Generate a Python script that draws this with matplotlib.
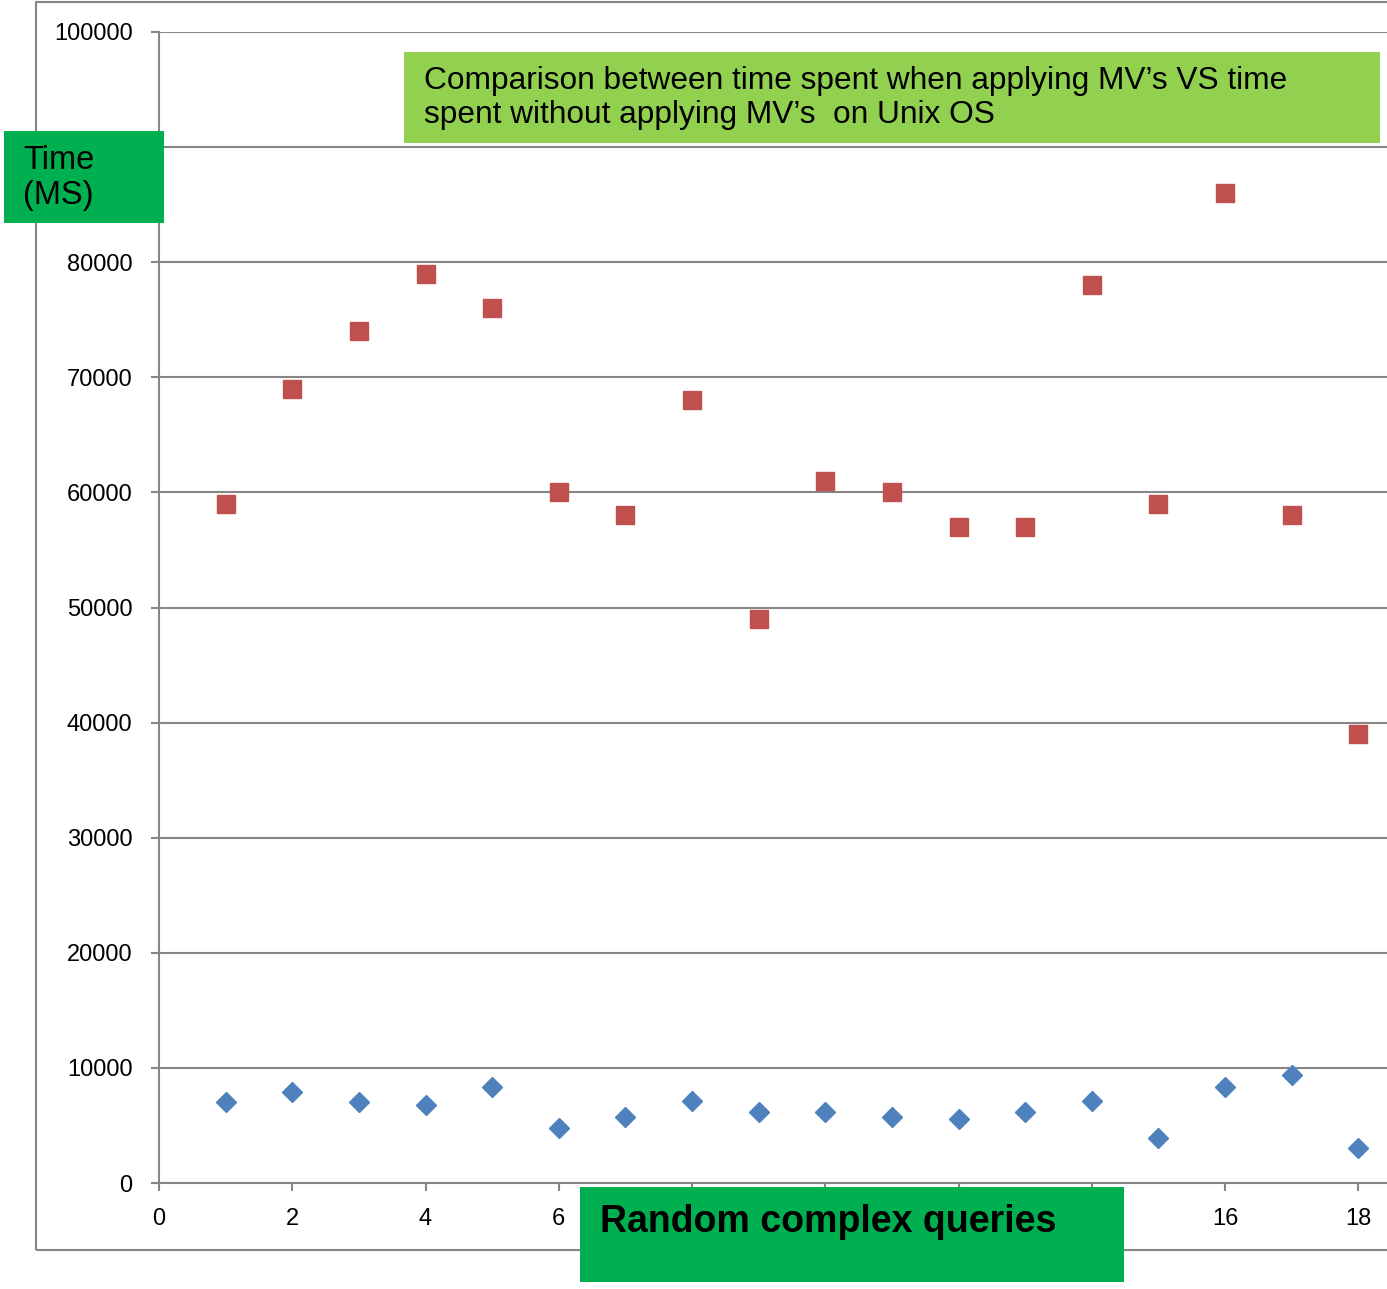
import matplotlib
matplotlib.use("Agg")
import matplotlib.pyplot as plt
from matplotlib.patches import Rectangle

queries = list(range(1, 19))
without_mv = [59000, 69000, 74000, 79000, 76000, 60000, 58000, 68000, 49000,
              61000, 60000, 57000, 57000, 78000, 59000, 86000, 58000, 39000]
with_mv = [7000, 7900, 7000, 6800, 8300, 4800, 5700, 7100, 6200,
           6200, 5700, 5600, 6200, 7100, 3900, 8300, 9400, 3000]
xticks = [0, 2, 4, 6, 8, 10, 12, 14, 16, 18]
yticks = [0, 10000, 20000, 30000, 40000, 50000, 60000, 70000, 80000, 90000, 100000]

title_text = "Comparison between time spent when applying MV\u2019s VS time\nspent without applying MV\u2019s  on Unix OS"
ylabel_text = "Time\n(MS)"
xlabel_text = "Random complex queries"

plt.rcParams['font.family'] = ['Liberation Sans', 'DejaVu Sans']

W, H = 1387, 1289
fig = plt.figure(figsize=(W / 100, H / 100), dpi=100)

def fx(px):
    return px / W

def fy(py):
    return 1 - py / H

gray = '#868686'

# outer chart frame
fig.add_artist(Rectangle((fx(36), fy(1250)), fx(1400) - fx(36), fy(2) - fy(1250),
                         transform=fig.transFigure, fill=False, edgecolor=gray, lw=1.5))

ax = fig.add_axes([fx(159), fy(1183), fx(1387) - fx(159), fy(32) - fy(1183)])
ax.set_xlim(0, 18.43)
ax.set_ylim(0, 100000)
ax.set_xticks(xticks)
ax.set_yticks(yticks)
ax.set_xticklabels([str(t) for t in xticks])
ax.set_yticklabels([str(t) for t in yticks])
ax.grid(axis='y', color=gray, lw=1.5)
ax.set_axisbelow(True)
for s in ['top', 'right']:
    ax.spines[s].set_visible(False)
for s in ['left', 'bottom']:
    ax.spines[s].set_color(gray)
    ax.spines[s].set_linewidth(1.5)
ax.tick_params(axis='both', direction='out', length=6, width=1.5, color=gray,
               labelsize=17)
ax.tick_params(axis='y', pad=13)
ax.tick_params(axis='x', pad=12)

ax.plot(queries, without_mv, linestyle='none', marker='s', markersize=13.5,
        color='#C0504D', clip_on=False, zorder=3)
ax.plot(queries, with_mv, linestyle='none', marker='D', markersize=10.5,
        color='#4F81BD', clip_on=False, zorder=3)

# title box
fig.add_artist(Rectangle((fx(404), fy(143)), fx(1380) - fx(404), fy(52) - fy(143),
                         transform=fig.transFigure, facecolor='#92D050', edgecolor='none', zorder=5))
fig.text(fx(424), fy(98), title_text, fontsize=22.8, va='center', ha='left',
         linespacing=1.2, zorder=6)

# y label box
fig.add_artist(Rectangle((fx(4), fy(223)), fx(164) - fx(4), fy(131) - fy(223),
                         transform=fig.transFigure, facecolor='#00B050', edgecolor='none', zorder=5))
fig.text(fx(23), fy(178), ylabel_text, fontsize=23.5, va='center', ha='left',
         linespacing=1.17, zorder=6)

# x label box
fig.add_artist(Rectangle((fx(580), fy(1282)), fx(1124) - fx(580), fy(1187) - fy(1282),
                         transform=fig.transFigure, facecolor='#00B050', edgecolor='none', zorder=5))
fig.text(fx(600), fy(1222), xlabel_text, fontsize=27, fontweight='bold', va='center',
         ha='left', zorder=6)

fig.savefig('out.png', dpi=100)
